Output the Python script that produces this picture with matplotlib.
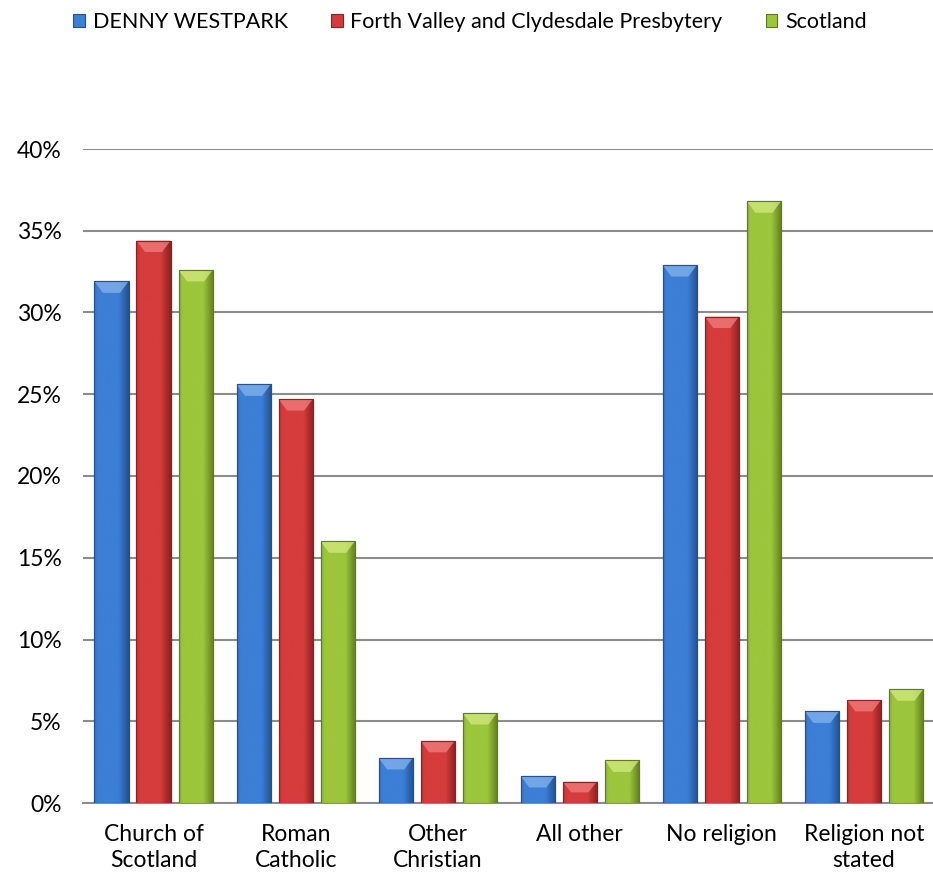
import numpy as np
import matplotlib.pyplot as plt
from matplotlib.colors import LinearSegmentedColormap
from matplotlib.patches import Polygon

plt.rcParams['font.family'] = ['Lato', 'DejaVu Sans']

# Дані
categories = ["Church of\nScotland", "Roman\nCatholic", "Other\nChristian",
              "All other", "No religion", "Religion not\nstated"]
series_names = ["DENNY WESTPARK", "Forth Valley and Clydesdale Presbytery", "Scotland"]
denny = [31.9, 25.6, 2.75, 1.65, 32.9, 5.6]
forth = [34.4, 24.7, 3.8, 1.3, 29.75, 6.3]
scotland = [32.6, 16.0, 5.5, 2.6, 36.8, 6.95]
yticks = [0, 5, 10, 15, 20, 25, 30, 35, 40]

# (світлий, основний, темний)
palette = [("#7fb0ec", "#3c7fd6", "#23508f"),
           ("#f07a7a", "#d63c3c", "#8e2020"),
           ("#cfe77a", "#9cc63c", "#5f7d1e")]

fig = plt.figure(figsize=(9.33, 8.77), dpi=100)
ax = fig.add_axes([82.5 / 933, 1 - 803 / 877, 1 - 82.5 / 933, (803 - 149) / 877])

x = np.arange(len(categories))
pitch = 0.296
width = 0.24
grad = np.linspace(0, 1, 64)
shade = 1 - np.abs(grad - 0.4) / 0.6
shade = shade.reshape(1, -1)

for i, (vals, name) in enumerate(zip([denny, forth, scotland], series_names)):
    light, main, dark = palette[i]
    cmap = LinearSegmentedColormap.from_list("c%d" % i, [dark, main, main])
    bars = ax.bar(x + (i - 1) * pitch, vals, width, color=main, edgecolor=dark,
                  linewidth=0.8, label=name, zorder=3)
    for b in bars:
        bx, by, bw, bh = b.get_x(), b.get_y(), b.get_width(), b.get_height()
        im = ax.imshow(shade, cmap=cmap, aspect='auto', extent=[bx, bx + bw, by, by + bh],
                       zorder=3.5, interpolation='bicubic')
        im.set_clip_path(b)
        # верхня фаска
        bev = min(0.7, bh * 0.5)
        ins = bw * 0.25
        top = by + bh
        poly = Polygon([[bx, top], [bx + bw, top], [bx + bw - ins, top - bev], [bx + ins, top - bev]],
                       closed=True, facecolor=light, edgecolor='none', alpha=0.8, zorder=4)
        ax.add_patch(poly)
        ax.add_patch(plt.Rectangle((bx, by), bw, bh, fill=False, edgecolor=dark, linewidth=0.8, zorder=4.5))

ax.set_xlim(-0.5, 5.5 - 2 / 142)
ax.set_ylim(0, 40)
ax.set_yticks(yticks)
ax.set_yticklabels(["%d%%" % t for t in yticks])
ax.set_xticks(x)
ax.set_xticklabels(categories, linespacing=1.3)
ax.tick_params(axis='both', length=0, labelsize=16.5, colors='black')
ax.tick_params(axis='y', pad=15)
ax.tick_params(axis='x', pad=15)
ax.grid(axis='y', color='#8c8c8c', linewidth=1.5, zorder=0)
ax.set_axisbelow(True)
for s in ['top', 'right', 'left']:
    ax.spines[s].set_visible(False)
ax.spines['bottom'].set_color('#8c8c8c')
ax.spines['bottom'].set_linewidth(1.5)

fig.legend(loc='center', bbox_to_anchor=(470 / 933, 1 - 22 / 877), ncol=3, frameon=False,
           fontsize=15.5, handlelength=0.55, handleheight=0.55, handletextpad=0.35, columnspacing=2.0)

plt.savefig("out.png", dpi=100)
